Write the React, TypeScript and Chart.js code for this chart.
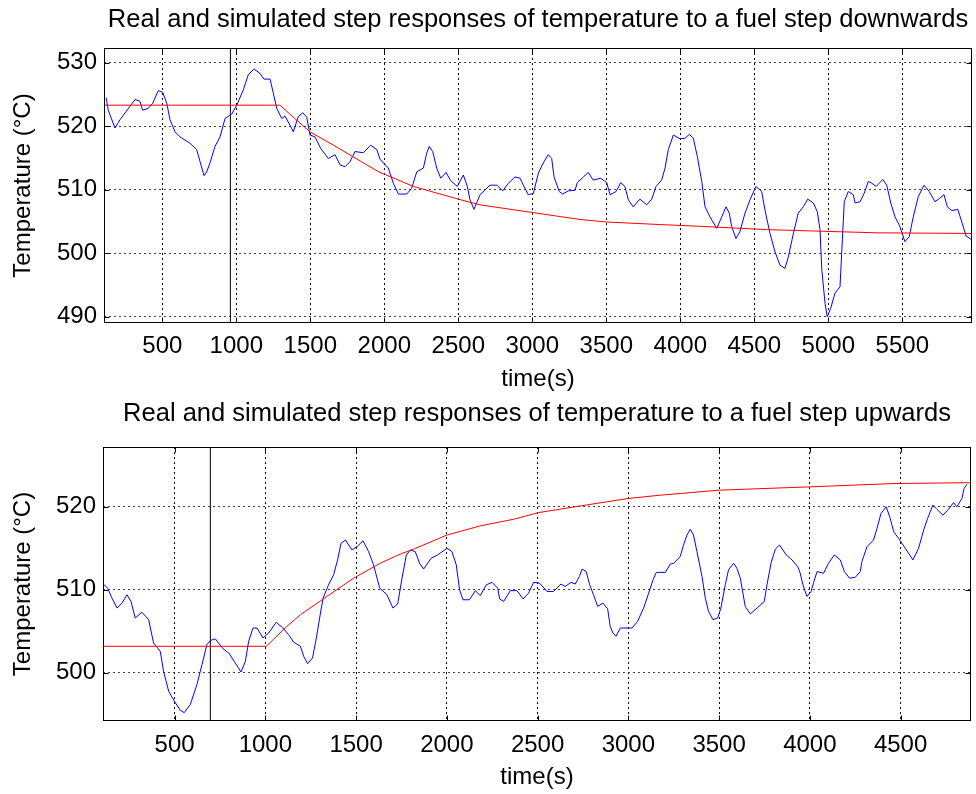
import React, { useEffect, useRef } from 'react';
import { Chart, registerables } from 'chart.js';
Chart.register(...registerables);

const FONT = "'Liberation Sans', Arial, Helvetica, sans-serif";

// ---------- Top panel data (fuel step downwards) ----------
const topTitle = 'Real and simulated step responses of temperature to a fuel step downwards';
const topXTicks = [500, 1000, 1500, 2000, 2500, 3000, 3500, 4000, 4500, 5000, 5500];
const topYTicks = [490, 500, 510, 520, 530];
const topMarker = 960;
const topBlueT = [120, 135, 180, 214, 316, 349, 367, 405, 435, 473, 503, 530, 552, 586, 620, 687, 732, 755, 782, 800, 822, 856, 890, 924, 969, 1003, 1047, 1081, 1120, 1160, 1187, 1228, 1250, 1273, 1307, 1329, 1368, 1385, 1419, 1449, 1476, 1498, 1532, 1570, 1622, 1667, 1701, 1734, 1768, 1802, 1858, 1908, 1949, 1971, 1994, 2027, 2061, 2095, 2151, 2185, 2219, 2264, 2286, 2304, 2327, 2354, 2381, 2417, 2449, 2493, 2534, 2561, 2579, 2606, 2647, 2714, 2760, 2800, 2838, 2883, 2917, 2944, 2973, 3007, 3041, 3074, 3108, 3131, 3147, 3182, 3205, 3243, 3289, 3304, 3345, 3378, 3412, 3462, 3503, 3525, 3566, 3597, 3626, 3649, 3682, 3727, 3773, 3807, 3836, 3874, 3897, 3919, 3953, 3998, 4032, 4061, 4088, 4115, 4145, 4167, 4201, 4246, 4280, 4309, 4331, 4347, 4376, 4403, 4437, 4471, 4511, 4550, 4572, 4606, 4640, 4674, 4707, 4730, 4764, 4797, 4831, 4861, 4899, 4926, 4944, 4956, 4978, 4993, 5016, 5045, 5079, 5095, 5108, 5135, 5169, 5181, 5215, 5242, 5271, 5294, 5323, 5368, 5395, 5422, 5451, 5480, 5518, 5547, 5574, 5608, 5647, 5682, 5721, 5750, 5782, 5804, 5834, 5875, 5902, 5931, 5969];
const topBlueV = [524.5, 522.5, 519.7, 521, 524.2, 523.9, 522.5, 522.8, 523.6, 525.6, 525.3, 523.6, 521, 519.1, 518.3, 517.3, 516.3, 514.4, 512.2, 512.8, 514.2, 516.8, 518.3, 521.2, 521.9, 523.3, 525.7, 528.1, 529, 528.3, 527.4, 527.4, 525.2, 522.8, 521.2, 521.6, 519.9, 519.1, 521.5, 522.1, 521.4, 518.6, 518.3, 516.5, 514.9, 515.5, 513.9, 513.6, 514.4, 516, 515.8, 517, 516.3, 514.8, 514.2, 513.4, 511, 509.3, 509.3, 510.2, 512.8, 513.4, 515.7, 516.8, 516, 513.4, 511.8, 512.7, 511.4, 510.5, 512.3, 510.5, 508.4, 506.9, 509.2, 510.7, 510.7, 509.8, 511, 512, 511.8, 510.5, 509.2, 509.4, 512.6, 514.2, 515.5, 514.9, 512, 509.7, 509.3, 509.8, 509.9, 511.1, 512, 512.7, 511.5, 511.8, 511.1, 509.2, 509.7, 511.1, 510.5, 508.4, 507.3, 508.5, 507.6, 508.5, 510.5, 511.5, 513.4, 516.3, 518.6, 518, 518.1, 518.7, 518.1, 515.2, 511.3, 507.3, 505.7, 503.9, 505.7, 507.3, 506.3, 504.2, 502.3, 503.4, 506.3, 508.4, 510.5, 509.7, 506.8, 503.1, 500.2, 498.1, 497.6, 499.4, 503.1, 506.3, 507.3, 508.5, 507.9, 506.5, 503.7, 497.4, 492.1, 490, 491.3, 493.7, 494.7, 502.1, 508.1, 509.7, 509.2, 507.9, 508.1, 509.4, 511.3, 511, 510.5, 511.6, 510.7, 507.9, 505.7, 504.4, 501.8, 502.6, 505.7, 508.9, 510.7, 509.7, 508.1, 508.6, 509.2, 507.3, 506.7, 506.9, 504.9, 502.7, 502.1];
const topRedT = [106, 1295, 1385, 1498, 1656, 1881, 1971, 2106, 2196, 2500, 2647, 3000, 3322, 3503, 3863, 4153, 4583, 5329, 5970];
const topRedV = [523.3, 523.3, 521.4, 519.1, 517.0, 513.9, 512.7, 511.4, 510.5, 508.5, 507.6, 506.4, 505.3, 504.9, 504.5, 504.2, 503.7, 503.2, 503.1];

// ---------- Bottom panel data (fuel step upwards) ----------
const botTitle = 'Real and simulated step responses of temperature to a fuel step upwards';
const botXTicks = [500, 1000, 1500, 2000, 2500, 3000, 3500, 4000, 4500];
const botYTicks = [500, 510, 520];
const botMarker = 697;
const botBlueT = [106, 131, 155, 183, 210, 238, 260, 283, 320, 357, 384, 421, 439, 467, 498, 531, 553, 587, 623, 651, 678, 697, 724, 767, 798, 834, 866, 890, 908, 932, 954, 987, 1018, 1060, 1097, 1128, 1156, 1193, 1211, 1233, 1260, 1281, 1299, 1318, 1348, 1376, 1398, 1417, 1441, 1477, 1505, 1538, 1569, 1596, 1630, 1670, 1703, 1729, 1753, 1777, 1799, 1826, 1850, 1872, 1913, 1949, 2001, 2028, 2052, 2070, 2089, 2125, 2157, 2184, 2217, 2249, 2280, 2291, 2313, 2350, 2386, 2420, 2450, 2478, 2511, 2552, 2588, 2629, 2652, 2684, 2708, 2730, 2745, 2768, 2787, 2808, 2831, 2860, 2886, 2900, 2915, 2932, 2956, 3020, 3051, 3084, 3112, 3136, 3154, 3204, 3231, 3249, 3286, 3304, 3323, 3341, 3359, 3378, 3406, 3424, 3442, 3466, 3492, 3510, 3534, 3552, 3580, 3598, 3617, 3644, 3672, 3709, 3749, 3764, 3786, 3810, 3833, 3870, 3902, 3933, 3947, 3962, 3984, 4007, 4021, 4040, 4076, 4103, 4135, 4168, 4190, 4219, 4250, 4278, 4287, 4315, 4351, 4370, 4392, 4421, 4443, 4462, 4489, 4526, 4568, 4599, 4627, 4649, 4678, 4700, 4733, 4764, 4792, 4810, 4838, 4850, 4865];
const botBlueV = [510.7, 510.2, 509, 507.8, 508.4, 509.4, 508.6, 506.6, 507.3, 506.4, 503.6, 502.6, 500.2, 497.8, 496.6, 495.5, 495.2, 496.2, 498.6, 501, 503.4, 503.9, 504.1, 502.9, 502.4, 501.2, 500.1, 501.4, 503.8, 505.4, 505.4, 504.2, 504.8, 506.1, 505.4, 504.6, 503.7, 503.2, 502, 501.1, 501.8, 504.2, 506.6, 509, 510.6, 511.8, 513.6, 515.6, 516, 514.8, 515.2, 515.9, 514.6, 513, 510.2, 509.4, 507.8, 508.3, 511.4, 514.2, 514.8, 514.6, 513.2, 512.5, 513.8, 514.2, 515, 514.6, 513, 510, 508.8, 508.8, 509.9, 509.3, 510.6, 510.9, 510.2, 508.9, 508.6, 509.9, 509.9, 508.9, 509.6, 510.9, 510.8, 509.8, 509.8, 510.7, 510.4, 510.9, 510.7, 511.6, 512.5, 512.2, 510.6, 509.4, 508, 508.4, 507.7, 505.6, 504.8, 504.4, 505.4, 505.4, 506.2, 507.8, 509.6, 511.2, 512.1, 512.1, 513.1, 513.2, 514, 515.4, 516.6, 517.3, 516.6, 514.6, 511.6, 509, 507.4, 506.4, 506.6, 507.8, 510.6, 512.4, 513.2, 512.6, 511.4, 508, 507.1, 507.8, 508.6, 510.6, 513.2, 514.9, 515.4, 514.2, 513.6, 512.8, 512, 510.6, 509.2, 509.8, 510.9, 512.2, 512, 513.2, 514.2, 513.6, 512.2, 511.4, 511.5, 512.2, 513.4, 515.2, 516, 517.4, 519.2, 520, 518.6, 517, 516.2, 515, 513.6, 515, 517.2, 518.6, 520.2, 519.7, 519, 519.7, 520.5, 520, 521, 522.2, 522.7];
const botRedT = [106, 1005, 1119, 1193, 1299, 1486, 1633, 1743, 1817, 2001, 2184, 2368, 2506, 2735, 3000, 3176, 3286, 3497, 4002, 4462, 4888];
const botRedV = [503.2, 503.2, 505.6, 507, 508.6, 511.4, 513.2, 514.3, 514.9, 516.6, 517.7, 518.5, 519.3, 520.1, 521, 521.4, 521.6, 522, 522.4, 522.8, 522.9];

const toPoints = (xs: number[], ys: number[]) => xs.map((x, i) => ({ x, y: ys[i] }));

const boxPlugin = {
  id: 'matlabBox',
  afterDatasetsDraw(chart: any) {
    const { ctx, chartArea, scales } = chart;
    const L = Math.round(chartArea.left) + 0.5;
    const T = Math.round(chartArea.top) + 0.5;
    const R = Math.round(chartArea.right) - 0.5;
    const B = Math.round(chartArea.bottom) - 0.5;
    ctx.save();
    ctx.setLineDash([]);
    ctx.strokeStyle = '#000';
    ctx.lineWidth = 1;
    ctx.strokeRect(L, T, R - L, B - T);
    const tl = 5;
    ctx.beginPath();
    scales.x.ticks.forEach((t: any) => {
      const px = Math.round(scales.x.getPixelForValue(t.value)) + 0.5;
      ctx.moveTo(px, B); ctx.lineTo(px, B - tl);
      ctx.moveTo(px, T); ctx.lineTo(px, T + tl);
    });
    scales.y.ticks.forEach((t: any) => {
      const py = Math.round(scales.y.getPixelForValue(t.value)) + 0.5;
      ctx.moveTo(L, py); ctx.lineTo(L + tl, py);
      ctx.moveTo(R, py); ctx.lineTo(R - tl, py);
    });
    ctx.stroke();
    ctx.restore();
  },
};

type Panel = {
  title: string;
  blueT: number[]; blueV: number[];
  redT: number[]; redV: number[];
  marker: number;
  xMin: number; xMax: number; yMin: number; yMax: number;
  xTicks: number[]; yTicks: number[];
  leftW: number; bottomH: number; rightPad: number;
  titleTop: number; titleBottom: number; xTitlePad: number; xTickPad: number;
};

const TITLE_SIZE = 25.5;
const TICK_SIZE = 24;
const AXIS_TITLE_SIZE = 24;

function makeConfig(p: Panel): any {
  return {
    type: 'line',
    data: {
      datasets: [
        { data: toPoints(p.redT, p.redV), borderColor: '#ff0000', borderWidth: 1, pointRadius: 0, tension: 0, order: 0 },
        { data: toPoints(p.blueT, p.blueV), borderColor: '#0000ff', borderWidth: 1, pointRadius: 0, tension: 0, order: 1 },
        { data: [{ x: p.marker, y: p.yMin }, { x: p.marker, y: p.yMax }], borderColor: '#000', borderWidth: 1, pointRadius: 0, order: 2 },
      ],
    },
    options: {
      responsive: false,
      animation: false,
      events: [],
      layout: { padding: { left: 0, right: p.rightPad, top: 0, bottom: 0 } },
      plugins: {
        legend: { display: false },
        tooltip: { enabled: false },
        title: {
          display: true,
          text: p.title,
          fullSize: false,
          color: '#000',
          font: { family: FONT, size: TITLE_SIZE, weight: 'normal', lineHeight: 1.2 },
          padding: { top: p.titleTop, bottom: p.titleBottom },
        },
      },
      scales: {
        x: {
          type: 'linear',
          min: p.xMin,
          max: p.xMax,
          afterBuildTicks: (s: any) => { s.ticks = p.xTicks.map((v) => ({ value: v })); },
          afterFit: (s: any) => { s.height = p.bottomH; },
          ticks: { autoSkip: false, maxRotation: 0, padding: p.xTickPad, color: '#000', font: { family: FONT, size: TICK_SIZE }, callback: (v: any) => String(v) },
          grid: { color: '#000', lineWidth: 1, drawTicks: false },
          border: { display: false, dash: [2, 3] },
          title: { display: true, text: 'time(s)', color: '#000', font: { family: FONT, size: AXIS_TITLE_SIZE }, padding: { top: 0, bottom: p.xTitlePad } },
        },
        y: {
          type: 'linear',
          min: p.yMin,
          max: p.yMax,
          afterBuildTicks: (s: any) => { s.ticks = p.yTicks.map((v) => ({ value: v })); },
          afterFit: (s: any) => { s.width = p.leftW; },
          ticks: { padding: 7, color: '#000', font: { family: FONT, size: TICK_SIZE }, callback: (v: any) => String(v) },
          grid: { color: '#444', lineWidth: 1, drawTicks: false },
          border: { display: false, dash: [2, 3] },
          title: { display: true, text: 'Temperature (°C)', color: '#000', font: { family: FONT, size: AXIS_TITLE_SIZE }, padding: { top: 9, bottom: 0 } },
        },
      },
    },
    plugins: [boxPlugin],
  };
}

const topPanel: Panel = {
  title: topTitle, blueT: topBlueT, blueV: topBlueV, redT: topRedT, redV: topRedV, marker: topMarker,
  xMin: 106, xMax: 5971, yMin: 489, yMax: 532.3, xTicks: topXTicks, yTicks: topYTicks,
  leftW: 104, bottomH: 74, rightPad: 4, titleTop: 5, titleBottom: 12.4, xTitlePad: 3, xTickPad: 8.5,
};
const botPanel: Panel = {
  title: botTitle, blueT: botBlueT, blueV: botBlueV, redT: botRedT, redV: botRedV, marker: botMarker,
  xMin: 105.5, xMax: 4888, yMin: 494.2, yMax: 527.2, xTicks: botXTicks, yTicks: botYTicks,
  leftW: 103, bottomH: 73, rightPad: 5, titleTop: 2, titleBottom: 17.4, xTitlePad: 2, xTickPad: 9.5,
};

function ChartCanvas({ panel, top }: { panel: Panel; top: number }) {
  const ref = useRef<HTMLCanvasElement | null>(null);
  useEffect(() => {
    if (!ref.current) return;
    const chart = new Chart(ref.current, makeConfig(panel));
    return () => chart.destroy();
  }, [panel]);
  return (
    <canvas
      ref={ref}
      width={976}
      height={397}
      style={{ position: 'absolute', left: 0, top, width: 976, height: 397, display: 'block' }}
    />
  );
}

export default function App() {
  return (
    <div style={{ position: 'absolute', left: 0, top: 0, width: 976, height: 794, background: '#fff', overflow: 'hidden' }}>
      <ChartCanvas panel={topPanel} top={0} />
      <ChartCanvas panel={botPanel} top={397} />
    </div>
  );
}
